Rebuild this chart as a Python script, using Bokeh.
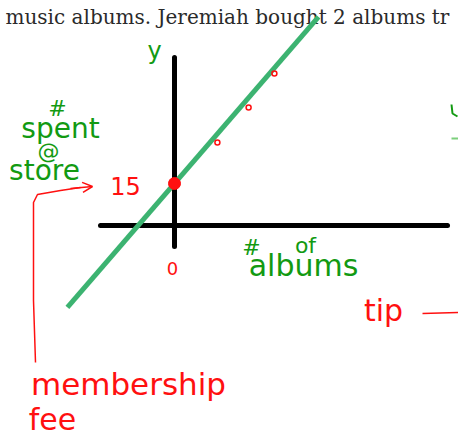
from bokeh.plotting import figure
from bokeh.models import Range1d, Arrow, OpenHead
from bokeh.embed import file_html
from bokeh.resources import INLINE
from bokeh.core.properties import value

# ---- data -------------------------------------------------------------
membership_fee = 15          # dollars, the y-intercept
tip_per_album = 12.4         # dollars per album, the slope
line_albums = [-3.57, 4.8]   # span of the drawn cost line
line_spent = [membership_fee + tip_per_album * a for a in line_albums]
dot_albums = [1.43, 2.47, 3.33]
dot_spent = [29.6, 42.1, 54.3]

# ---- canvas scale: pixels per unit and origin location ------------------
W, H = 458, 441
SX, SY = 30.0, 2.8
OX, OY = 174, 225


def X(px):
    return (px - OX) / SX


def Y(py):
    return (OY - py) / SY


p = figure(width=W, height=H, output_backend="svg", toolbar_location=None,
           x_range=Range1d(X(0), X(W)), y_range=Range1d(Y(H), Y(0)),
           min_border=0, background_fill_color="white",
           border_fill_color="white")
p.axis.visible = False
p.grid.visible = False
p.outline_line_color = None

GREEN_INK = "#129a12"
RED_INK = "#ff1010"
LINE_GREEN = "#3cb371"
HAND = value("DejaVu Sans")

# heading text from the worksheet
p.text(x=[X(5)], y=[Y(16)], text=["music albums. Jeremiah bought 2 albums tr"],
       text_font=value("DejaVu Serif"), text_font_size="20px",
       text_color="#2a2a2a", text_baseline="alphabetic", text_align="left")

# hand drawn axes
p.line([0, 0], [Y(57), Y(246)], line_color="black", line_width=5,
       line_cap="round")
p.line([X(100), X(447)], [0, 0], line_color="black", line_width=5,
       line_cap="round")

# cost line
p.line(line_albums, line_spent, line_color=LINE_GREEN, line_width=5)

# intercept and sample points
p.scatter([0], [membership_fee], size=12, fill_color=RED_INK,
          line_color=RED_INK)
p.scatter(dot_albums, dot_spent, size=5, fill_color=None,
          line_color=RED_INK, line_width=1.5)


def label(px, py, txt, size, color, baseline="middle"):
    p.text(x=[X(px)], y=[Y(py)], text=[txt], text_font=HAND,
           text_font_size=f"{size}px", text_color=color,
           text_align="center", text_baseline=baseline)


# green labels
label(154, 50, "y", 24, GREEN_INK, "alphabetic")
label(57, 108, "#", 22, GREEN_INK)
label(60, 128, "spent", 28, GREEN_INK)
label(48, 151, "@", 22, GREEN_INK)
label(44, 170, "store", 28, GREEN_INK)
label(251, 247, "#", 22, GREEN_INK)
label(305, 245, "of", 22, GREEN_INK)
label(303, 265, "albums", 30, GREEN_INK)

# red labels
label(125, 185, "15", 24, RED_INK)
label(172, 268, "0", 18, RED_INK)
label(383, 310, "tip", 30, RED_INK)
label(128, 383, "membership", 31, RED_INK)
label(52, 419, "fee", 30, RED_INK)

# arrow from "membership fee" up to the intercept label
p.line([X(35), X(33), X(33), X(37), X(60), X(80)],
       [Y(362), Y(300), Y(202), Y(194), Y(190), Y(187)],
       line_color=RED_INK, line_width=1.5)
p.add_layout(Arrow(x_start=X(70), y_start=Y(188), x_end=X(92), y_end=Y(186),
                   line_color=RED_INK, line_width=1.5,
                   end=OpenHead(size=10, line_color=RED_INK, line_width=1.5)))

# arrow from "tip" toward the right margin
p.line([X(422), X(458)], [Y(313), Y(312)], line_color=RED_INK, line_width=1.5)

# partial green strokes at the right edge
p.line([X(451), X(452), X(457)], [Y(104), Y(113), Y(116)],
       line_color=GREEN_INK, line_width=2)
p.line([X(451), X(458)], [Y(138), Y(138)], line_color="#7ccf7c", line_width=2)

open("out.html", "w").write(file_html(p, INLINE))
